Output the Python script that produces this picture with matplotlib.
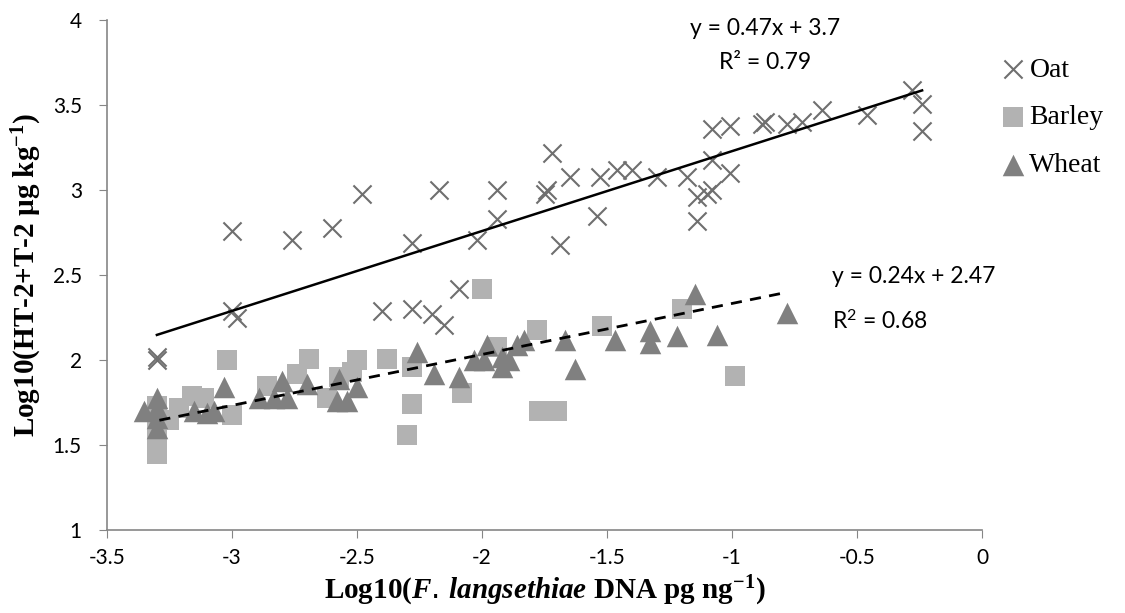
import numpy as np
import matplotlib
matplotlib.use("Agg")
import matplotlib.pyplot as plt

# values: log10 DNA (x), log10 HT-2+T-2 (y)
oat_x = [-3.3, -3.3, -3.0, -2.98, -3.0, -2.76, -2.60, -2.48, -2.40, -2.28, -2.28, -2.20,
         -2.15, -2.09, -2.17, -2.02, -1.94, -1.94, -1.75, -1.74, -1.72, -1.69, -1.65,
         -1.54, -1.53, -1.46, -1.40, -1.30, -1.18, -1.14, -1.10, -1.14, -1.08, -1.08,
         -1.08, -1.01, -1.01, -0.88, -0.87, -0.78, -0.72, -0.64, -0.46, -0.28, -0.24, -0.24]
oat_y = [2.02, 2.0, 2.29, 2.25, 2.76, 2.71, 2.78, 2.98, 2.29, 2.30, 2.69, 2.27,
         2.21, 2.42, 3.0, 2.71, 3.0, 2.83, 2.98, 3.0, 3.22, 2.68, 3.08,
         2.85, 3.08, 3.12, 3.12, 3.08, 3.08, 2.96, 2.98, 2.82, 3.0, 3.18,
         3.36, 3.10, 3.38, 3.39, 3.40, 3.39, 3.40, 3.47, 3.44, 3.59, 3.51, 3.35]

barley_x = [-3.3, -3.3, -3.3, -3.3, -3.3, -3.3, -3.25, -3.21, -3.16, -3.11, -3.0, -3.02,
            -2.86, -2.74, -2.69, -2.62, -2.57, -2.52, -2.50, -2.38, -2.28, -2.28, -2.30,
            -2.08, -2.0, -1.94, -1.78, -1.77, -1.70, -1.52, -1.20, -0.99]
barley_y = [1.73, 1.69, 1.62, 1.55, 1.49, 1.45, 1.65, 1.72, 1.79, 1.78, 1.68, 2.0,
            1.85, 1.92, 2.01, 1.78, 1.90, 1.93, 2.0, 2.01, 1.96, 1.74, 1.56,
            1.81, 2.42, 2.08, 2.18, 1.70, 1.70, 2.20, 2.30, 1.91]

wheat_x = [-3.3, -3.3, -3.35, -3.3, -3.3, -3.15, -3.10, -3.07, -3.03, -2.89,
           -2.80, -2.83, -2.78, -2.70, -2.57, -2.58, -2.54, -2.50, -2.26, -2.19, -2.09,
           -2.03, -1.99, -1.98, -1.92, -1.92, -1.89, -1.86, -1.83, -1.67, -1.63,
           -1.47, -1.33, -1.33, -1.22, -1.15, -1.06, -0.78]
wheat_y = [1.78, 1.72, 1.70, 1.66, 1.60, 1.70, 1.69, 1.70, 1.84, 1.78,
           1.88, 1.78, 1.78, 1.86, 1.89, 1.76, 1.76, 1.84, 2.05, 1.92, 1.90,
           2.0, 2.0, 2.09, 1.96, 2.02, 2.0, 2.09, 2.12, 2.12, 1.95,
           2.12, 2.17, 2.10, 2.14, 2.39, 2.15, 2.28]

# trend lines as drawn on the chart (slope, intercept)
oat_fit = (0.47, 3.7)
wheat_fit = (0.30, 2.634)

plt.rcParams['mathtext.fontset'] = 'custom'
plt.rcParams['mathtext.bf'] = 'Liberation Serif:bold'
plt.rcParams['mathtext.it'] = 'Liberation Serif:italic:bold'
plt.rcParams['mathtext.sf'] = 'Lato'

fig = plt.figure(figsize=(11.25, 6.13), dpi=100)
ax = fig.add_axes([0.095, 0.135, 0.778, 0.832])

oat_c, barley_c, wheat_c = '#6f6f6f', '#b2b2b2', '#808080'

ax.scatter(barley_x, barley_y, marker='s', s=190, color=barley_c, linewidths=0, zorder=2, label='Barley')
ax.scatter(wheat_x, wheat_y, marker='^', s=240, color=wheat_c, linewidths=0, zorder=3, label='Wheat')
ax.scatter(oat_x, oat_y, marker='x', s=170, color=oat_c, linewidths=1.5, zorder=4, label='Oat')

# trend lines over each series' x range
xo = np.array([min(oat_x), max(oat_x)])
ax.plot(xo, oat_fit[0] * xo + oat_fit[1], color='black', lw=1.8, zorder=5)
xw = np.array([-3.29, max(wheat_x)])
ax.plot(xw, wheat_fit[0] * xw + wheat_fit[1], color='black', lw=2, ls=(0, (4, 3)), zorder=5)

ax.set_xlim(-3.5, 0)
ax.set_ylim(1, 4)
ax.set_xticks(np.arange(-3.5, 0.01, 0.5))
ax.set_yticks(np.arange(1, 4.01, 0.5))
ax.set_xticklabels(['-3.5', '-3', '-2.5', '-2', '-1.5', '-1', '-0.5', '0'])
ax.set_yticklabels(['1', '1.5', '2', '2.5', '3', '3.5', '4'])
for s in ['top', 'right']:
    ax.spines[s].set_visible(False)
for s in ['left', 'bottom']:
    ax.spines[s].set_color('#868686')
    ax.spines[s].set_linewidth(1.2)
ax.tick_params(direction='out', length=6, color='#868686', labelsize=15)
ax.tick_params(axis='y', pad=12)
ax.tick_params(axis='x', pad=7)
for lab in ax.get_xticklabels() + ax.get_yticklabels():
    lab.set_family('Lato')

ax.set_xlabel(r'Log10($\mathit{F.\,langsethiae}$ DNA pg ng$^{\mathbf{-1}}$)',
              family='Liberation Serif', fontweight='bold', fontsize=21, labelpad=4)
ax.set_ylabel(r'Log10(HT-2+T-2 µg kg$^{\mathbf{-1}}$)',
              family='Liberation Serif', fontweight='bold', fontsize=21, labelpad=6)

ax.text(-0.87, 3.95, 'y = 0.47x + 3.7', family='Lato', fontsize=16.5, ha='center', va='center')
ax.text(-0.87, 3.75, 'R² = 0.79', family='Lato', fontsize=16.5, ha='center', va='center')
ax.text(-0.6, 2.49, 'y = 0.24x + 2.47', family='Lato', fontsize=16.5, ha='left', va='center')
ax.text(-0.6, 2.23, r'R$^{\mathsf{2}}$ = 0.68', family='Lato', fontsize=16.5, ha='left', va='center')

handles, labels = ax.get_legend_handles_labels()
order = [2, 0, 1]
fig.legend([handles[i] for i in order], [labels[i] for i in order],
           loc='upper left', bbox_to_anchor=(0.878, 0.925), frameon=False,
           prop={'family': 'Liberation Serif', 'size': 20},
           handlelength=1.0, handletextpad=0.1, labelspacing=0.8, borderaxespad=0)

fig.savefig('out.png', dpi=100)
